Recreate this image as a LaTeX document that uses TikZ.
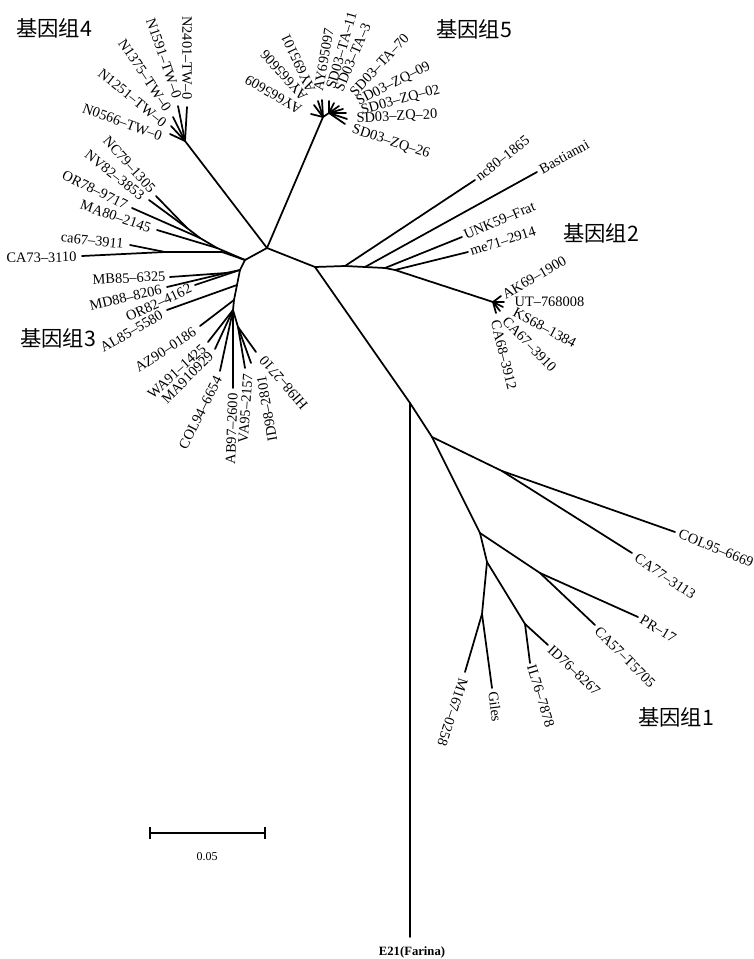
\documentclass[tikz,border=0pt]{standalone}
\usepackage{fontspec}
\setmainfont{Liberation Serif}
\newfontfamily\cjk{Noto Sans CJK SC}
\tikzset{
  br/.style={line width=1.3pt, line cap=round, line join=round},
  lbl/.style={font=\fontsize{10.8}{12}\selectfont, inner sep=1pt},
  grp/.style={font=\cjk\fontsize{16}{18}\selectfont, inner sep=0pt},
}
\begin{document}
\begin{tikzpicture}[x=0.75pt,y=-0.75pt]
\useasboundingbox (0,0) rectangle (753,959);
% ---------- internal nodes ----------
\coordinate (N1) at (267,248);
\coordinate (N3) at (245,260);
\coordinate (N2) at (315,267);
\coordinate (G4) at (185,141);
\coordinate (G5) at (323,117);
\coordinate (S5) at (329,113);
% genogroup 3 internal
\coordinate (b1) at (187,228);
\coordinate (b2) at (200,238);
\coordinate (b3) at (217,248);
\coordinate (a2) at (165,252);
\coordinate (a1) at (222,252);
\coordinate (c1) at (240,270);
\coordinate (c2) at (226,273);
\coordinate (c4) at (237,285);
\coordinate (N4) at (234,300);
\coordinate (N5) at (233,310);
\coordinate (N6) at (238,327);
% genogroup 2 internal
\coordinate (g2a) at (345,266);
\coordinate (g2b) at (365,267);
\coordinate (g2c) at (385,268);
\coordinate (g2d) at (395,270);
\coordinate (hub2) at (493,302);
% genogroup 1 internal
\coordinate (nE) at (410,403);
\coordinate (g1a) at (432,437);
\coordinate (g1b) at (502,471);
\coordinate (g1c) at (480,533);
\coordinate (g1d) at (540,573);
\coordinate (g1e) at (487,562);
\coordinate (g1f) at (525,624);
\coordinate (g1g) at (482,614);
% ---------- leaves ----------
\coordinate (L2401) at (187,107);
\coordinate (L1591) at (178,106);
\coordinate (L1375) at (173,117);
\coordinate (L1251) at (171,126);
\coordinate (L0566) at (170,134);
\coordinate (Lay609) at (311,114);
\coordinate (Lay606) at (314,105);
\coordinate (Lay101) at (318,101);
\coordinate (Lay097) at (322,100);
\coordinate (Lta11) at (329,101);
\coordinate (Lta3) at (334,103);
\coordinate (Lta70) at (339,106);
\coordinate (Lzq09) at (343,109);
\coordinate (Lzq02) at (346,113);
\coordinate (Lzq20) at (347,119);
\coordinate (Lzq26) at (345,124);
\coordinate (Lnc79) at (156,196);
\coordinate (Lnv82) at (149,200);
\coordinate (Lor78) at (132,208);
\coordinate (Lma80) at (157,230);
\coordinate (Lca67) at (130,245);
\coordinate (Lca73) at (82,256);
\coordinate (Lmb85) at (170,277);
\coordinate (Lmd88) at (167,287);
\coordinate (Lor82) at (195,285);
\coordinate (Lal85) at (167,310);
\coordinate (Laz90) at (200,326);
\coordinate (Lwa91) at (208,342);
\coordinate (Lma91) at (215,349);
\coordinate (Lcol94) at (220,371);
\coordinate (Lab97) at (233,388);
\coordinate (Lva95) at (245,368);
\coordinate (Lid98) at (251,363);
\coordinate (Lhi98) at (256,352);
\coordinate (Lnc80) at (475,180);
\coordinate (Lbas) at (537,172);
\coordinate (Lunk) at (462,237);
\coordinate (Lme71) at (468,252);
\coordinate (Lak69) at (501,296);
\coordinate (Lut) at (504,302);
\coordinate (Lks68) at (503,307);
\coordinate (Lca67b) at (500,311);
\coordinate (Lca68) at (496,313);
\coordinate (Lcol95) at (675,532);
\coordinate (Lca77) at (632,553);
\coordinate (Lpr17) at (638,617);
\coordinate (Lca57) at (595,625);
\coordinate (Lid76) at (548,645);
\coordinate (Lil76) at (530,663);
\coordinate (Lgiles) at (492,688);
\coordinate (Lm167) at (465,672);
\coordinate (Le21) at (410,937);
% ---------- branches ----------
\draw[br] (N1) -- (N3);
\draw[br] (N1) -- (N2);
\draw[br] (N1) -- (G4);
\draw[br] (N1) -- (G5);
% genogroup 4
\foreach \l in {L2401,L1591,L1375,L1251,L0566} \draw[br] (G4) -- (\l);
% genogroup 5
\foreach \l in {Lay609,Lay606,Lay101,Lay097} \draw[br] (G5) -- (\l);
\draw[br] (G5) -- (S5);
\foreach \l in {Lta11,Lta3,Lta70,Lzq09,Lzq02,Lzq20,Lzq26} \draw[br] (S5) -- (\l);
% genogroup 3
\draw[br] (Lnc79) -- (b1);
\draw[br] (Lnv82) -- (b1);
\draw[br] (b1) -- (b2);
\draw[br] (Lor78) -- (b2);
\draw[br] (b2) -- (b3);
\draw[br] (Lma80) -- (b3);
\draw[br] (b3) -- (N3);
\draw[br] (Lca73) -- (a2);
\draw[br] (Lca67) -- (a2);
\draw[br] (a2) -- (a1);
\draw[br] (a1) -- (N3);
\draw[br] (N3) -- (c1) -- (c4) -- (N4) -- (N5);
\draw[br] (Lmb85) -- (c2);
\draw[br] (Lmd88) -- (c2);
\draw[br] (c2) -- (c1);
\draw[br] (Lor82) -- (c1);
\draw[br] (Lal85) -- (c4);
\draw[br] (Laz90) -- (N4);
\foreach \l in {Lwa91,Lma91,Lcol94,Lab97} \draw[br] (N5) -- (\l);
\draw[br] (N5) -- (N6);
\foreach \l in {Lva95,Lid98,Lhi98} \draw[br] (N6) -- (\l);
% genogroup 2
\draw[br] (N2) -- (g2a) -- (g2b) -- (g2c) -- (g2d) -- (hub2);
\draw[br] (g2a) -- (Lnc80);
\draw[br] (g2b) -- (Lbas);
\draw[br] (g2c) -- (Lunk);
\draw[br] (g2d) -- (Lme71);
\foreach \l in {Lak69,Lut,Lks68,Lca67b,Lca68} \draw[br] (hub2) -- (\l);
% genogroup 1
\draw[br] (N2) -- (nE) -- (g1a);
\draw[br] (nE) -- (Le21);
\draw[br] (g1a) -- (g1b);
\draw[br] (g1b) -- (Lcol95);
\draw[br] (g1b) -- (Lca77);
\draw[br] (g1a) -- (g1c);
\draw[br] (g1c) -- (g1d);
\draw[br] (g1d) -- (Lpr17);
\draw[br] (g1d) -- (Lca57);
\draw[br] (g1c) -- (g1e);
\draw[br] (g1e) -- (g1f);
\draw[br] (g1f) -- (Lid76);
\draw[br] (g1f) -- (Lil76);
\draw[br] (g1e) -- (g1g);
\draw[br] (g1g) -- (Lgiles);
\draw[br] (g1g) -- (Lm167);
% ---------- labels ----------
% genogroup 4
\node[lbl, anchor=east, rotate=-90] (t2401) at (187,101) {N2401–TW–0};
\node[lbl, anchor=east, rotate=-71] (t1591) at (178,99) {N1591–TW–0};
\node[lbl, anchor=east, rotate=-56] (t1375) at (169,111) {N1375–TW–0};
\node[lbl, anchor=east, rotate=-39] (t1251) at (166,125) {N1251–TW–0};
\node[lbl, anchor=east, rotate=-20] (t0566) at (163,137) {N0566–TW–0};
% genogroup 5
\node[lbl, anchor=west, rotate=150] (tay609) at (302,111) {AY665609};
\node[lbl, anchor=west, rotate=132] (tay606) at (306,100) {AY665606};
\node[lbl, anchor=west, rotate=115] (tay101) at (312,93) {AY695101};
\node[lbl, anchor=west, rotate=80] (tay097) at (318,92) {AY695097};
\node[lbl, anchor=west, rotate=74] (tta11) at (330,90) {SD03–TA–11};
\node[lbl, anchor=west, rotate=67] (tta3) at (338,92) {SD03–TA–3};
\node[lbl, anchor=west, rotate=47] (tta70) at (351,95) {SD03–TA–70};
\node[lbl, anchor=west, rotate=27] (tzq09) at (356,103) {SD03–ZQ–09};
\node[lbl, anchor=west, rotate=15] (tzq02) at (360,111) {SD03–ZQ–02};
\node[lbl, anchor=west, rotate=3] (tzq20) at (355,119) {SD03–ZQ–20};
\node[lbl, anchor=west, rotate=-18] (tzq26) at (351,129) {SD03–ZQ–26};
% genogroup 3
\node[lbl, anchor=east, rotate=-48] (tnc79) at (154,192) {NC79–1305};
\node[lbl, anchor=east, rotate=-38] (tnv82) at (144,198) {NV82–3853};
\node[lbl, anchor=east, rotate=-26] (tor78) at (128,206) {OR78–9717};
\node[lbl, anchor=east, rotate=-19] (tma80) at (152,229) {MA80–2145};
\node[lbl, anchor=east, rotate=-6] (tca67) at (125,244) {ca67–3911};
\node[lbl, anchor=east, rotate=1] (tca73) at (78,257) {CA73–3110};
\node[lbl, anchor=east, rotate=3] (tmb85) at (167,276) {MB85–6325};
\node[lbl, anchor=east, rotate=13] (tmd88) at (163,289) {MD88–8206};
\node[lbl, anchor=east, rotate=25] (tor82) at (192,287) {OR82–4162};
\node[lbl, anchor=east, rotate=30] (tal85) at (163,313) {AL85–5580};
\node[lbl, anchor=east, rotate=33] (taz90) at (196,330) {AZ90–0186};
\node[lbl, anchor=east, rotate=42] (twa91) at (205,346) {WA91–1425};
\node[lbl, anchor=east, rotate=45] (tma91) at (212,353) {MA910929};
\node[lbl, anchor=east, rotate=63] (tcol94) at (219,376) {COL94–6654};
\node[lbl, anchor=east, rotate=88] (tab97) at (233,392) {AB97–2600};
\node[lbl, anchor=east, rotate=86] (tva95) at (248,372) {VA95–2157};
\node[lbl, anchor=east, rotate=100] (tid98) at (261,375) {ID98–2801};
\node[lbl, anchor=east, rotate=131] (thi98) at (261,357) {HI98–2710};
% genogroup 2
\node[lbl, anchor=west, rotate=38] (tnc80) at (476,179) {nc80–1865};
\node[lbl, anchor=west, rotate=29] (tbas) at (539,171) {Bastianni};
\node[lbl, anchor=west, rotate=23] (tunk) at (463,236) {UNK59–Frat};
\node[lbl, anchor=west, rotate=18] (tme71) at (469,252) {me71–2914};
\node[lbl, anchor=west, rotate=30] (tak69) at (502,296) {AK69–1900};
\node[lbl, anchor=west, rotate=0] (tut) at (513,302) {UT–768008};
\node[lbl, anchor=west, rotate=-28] (tks68) at (513,311) {KS68–1384};
\node[lbl, anchor=west, rotate=-46] (tca67b) at (504,318) {CA67–3910};
\node[lbl, anchor=west, rotate=-76] (tca68) at (495,319) {CA68–3912};
% genogroup 1
\node[lbl, anchor=west, rotate=-22] (tcol95) at (678,533) {COL95–6669};
\node[lbl, anchor=west, rotate=-34] (tca77) at (635,556) {CA77–3113};
\node[lbl, anchor=west, rotate=-31] (tpr17) at (640,618) {PR–17};
\node[lbl, anchor=west, rotate=-45] (tca57) at (596,628) {CA57–T5705};
\node[lbl, anchor=west, rotate=-43] (tid76) at (549,647) {ID76–8267};
\node[lbl, anchor=west, rotate=-73] (til76) at (531,664) {IL76–7878};
\node[lbl, anchor=west, rotate=-83] (tgiles) at (493,690) {Giles};
\node[lbl, anchor=west, rotate=-108] (tm167) at (464,677) {M167–0258};
\node[font=\bfseries\fontsize{9.5}{11}\selectfont, inner sep=0pt] (te21) at (412,952) {E21(Farina)};
% group titles
\node[grp] (grp4) at (54,28) {基因组4};
\node[grp] (grp5) at (474,29) {基因组5};
\node[grp] (grp2) at (601,233) {基因组2};
\node[grp] (grp3) at (58,338) {基因组3};
\node[grp] (grp1) at (676,717) {基因组1};
% scale bar
\coordinate (sb1) at (150,833);
\coordinate (sb2) at (265,833);
\draw[line width=1.2pt] (sb1) -- (sb2);
\draw[line width=1.2pt] ([yshift=-4.5pt]sb1) -- ([yshift=4.5pt]sb1);
\draw[line width=1.2pt] ([yshift=-4.5pt]sb2) -- ([yshift=4.5pt]sb2);
\node[font=\fontsize{9}{10}\selectfont, inner sep=0pt] (sbl) at (207,857) {0.05};
\end{tikzpicture}
\end{document}
